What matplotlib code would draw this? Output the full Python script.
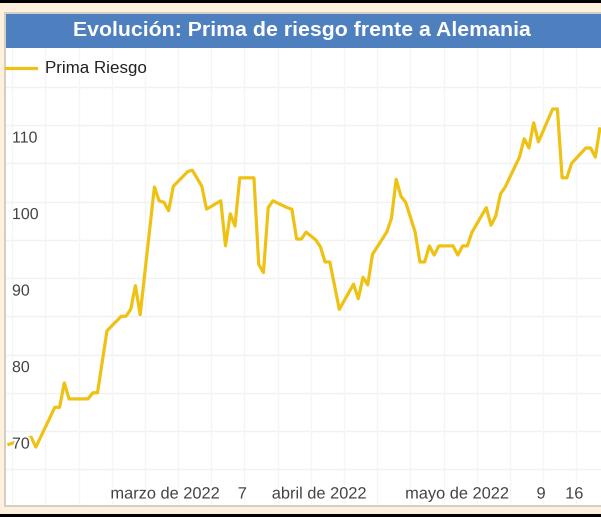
import matplotlib
matplotlib.use("Agg")
import matplotlib.pyplot as plt
import matplotlib.dates as mdates
import matplotlib.patheffects as pe
from matplotlib.patches import Rectangle
from matplotlib.lines import Line2D
import datetime as dt

plt.rcParams['font.family'] = ['Liberation Sans', 'DejaVu Sans']

# ---------------- data ----------------
title = "Evolución: Prima de riesgo frente a Alemania"
series_name = "Prima Riesgo"

dates = [
    "2022-01-16", "2022-01-21", "2022-01-22", "2022-01-26", "2022-01-27",
    "2022-01-28", "2022-01-29", "2022-02-02", "2022-02-03", "2022-02-04",
    "2022-02-06", "2022-02-09", "2022-02-10", "2022-02-11", "2022-02-12",
    "2022-02-13", "2022-02-16", "2022-02-17", "2022-02-18", "2022-02-19",
    "2022-02-20", "2022-02-23", "2022-02-24", "2022-02-26", "2022-02-27",
    "2022-03-02", "2022-03-03", "2022-03-04", "2022-03-05", "2022-03-06",
    "2022-03-09", "2022-03-10", "2022-03-11", "2022-03-12", "2022-03-13",
    "2022-03-16", "2022-03-17", "2022-03-18", "2022-03-19", "2022-03-20",
    "2022-03-22", "2022-03-23", "2022-03-24", "2022-03-25", "2022-03-27",
    "2022-03-30", "2022-03-31", "2022-04-01", "2022-04-02", "2022-04-03",
    "2022-04-06", "2022-04-07", "2022-04-08", "2022-04-09", "2022-04-10",
    "2022-04-12", "2022-04-13", "2022-04-14", "2022-04-15", "2022-04-16",
    "2022-04-17", "2022-04-20", "2022-04-21", "2022-04-22", "2022-04-23",
    "2022-04-24", "2022-04-27", "2022-04-28", "2022-04-29", "2022-04-30",
    "2022-05-01", "2022-05-04", "2022-05-05", "2022-05-06", "2022-05-07",
    "2022-05-08", "2022-05-11", "2022-05-12", "2022-05-13", "2022-05-14",
    "2022-05-15", "2022-05-18", "2022-05-19", "2022-05-20", "2022-05-21",
]
values = [
    68.2, 69.2, 67.9, 73.1, 73.1,
    76.3, 74.2, 74.2, 75.0, 75.0,
    83.1, 85.0, 85.0, 85.9, 89.0,
    85.2, 101.9, 100.1, 99.9, 98.8,
    102.0, 103.9, 104.1, 102.0, 99.0,
    100.1, 94.2, 98.4, 96.8, 103.1,
    103.1, 91.8, 90.7, 99.2, 100.1,
    99.2, 99.0, 95.1, 95.1, 96.0,
    95.0, 94.1, 92.1, 92.1, 85.9,
    89.2, 87.3, 90.1, 89.1, 93.1,
    96.0, 97.8, 102.9, 100.7, 99.9,
    96.0, 92.1, 92.1, 94.2, 93.0,
    94.2, 94.2, 93.0, 94.2, 94.2,
    96.0, 99.2, 96.9, 98.1, 101.0,
    101.9, 105.8, 108.2, 107.0, 110.3,
    107.8, 112.1, 112.1, 103.1, 103.1,
    105.0, 107.0, 107.0, 105.8, 109.7,
]

y_major = [70, 80, 90, 100, 110]
y_grid = [65, 70, 75, 80, 85, 90, 95, 100, 105, 110, 115]

month_label_dates = ["2022-03-01", "2022-04-01", "2022-05-01"]
month_labels = ["marzo de 2022", "abril de 2022", "mayo de 2022"]
day_label_dates = ["2022-03-07", "2022-05-09", "2022-05-16"]
day_labels = ["7", "9", "16"]

week_grid_dates = ["2022-01-17", "2022-01-24", "2022-01-31", "2022-02-07",
                   "2022-02-14", "2022-02-21", "2022-02-28", "2022-03-07",
                   "2022-03-14", "2022-03-21", "2022-03-28", "2022-04-04",
                   "2022-04-11", "2022-04-18", "2022-04-25", "2022-05-02",
                   "2022-05-09", "2022-05-16"]

# ---------------- figure ----------------
W, H = 601, 517
fig = plt.figure(figsize=(W / 100, H / 100), dpi=100)
fig.patch.set_facecolor('#fdf0dc')


def fx(px):
    return px / W


def fy(py):
    return 1 - py / H


def rect(x0, y0, x1, y1, color, z=0):
    fig.add_artist(Rectangle((fx(x0), fy(y1)), fx(x1) - fx(x0), (y1 - y0) / H,
                             transform=fig.transFigure, facecolor=color,
                             edgecolor='none', zorder=z))


rect(0, 0, 601, 3, '#000000')
rect(0, 514, 601, 517, '#000000')
rect(4, 12, 601, 507, '#d3cec6')
rect(6, 14, 601, 505, '#ffffff')
rect(6, 14, 601, 48, '#4e80c0')

fig.text(fx(302), fy(31), title, ha='center', va='center', color='white',
         fontsize=15.3, fontweight='bold', zorder=5)

fig.add_artist(Line2D([fx(6), fx(36)], [fy(68), fy(68)], transform=fig.transFigure,
                      color='#efc113', lw=2.3, zorder=5))
fig.text(fx(45), fy(68), series_name, ha='left', va='center', color='#222222',
         fontsize=12.2, zorder=5)

ax = fig.add_axes([fx(6), fy(505), fx(601) - fx(6), (505 - 48) / H])
ax.set_facecolor('none')
for s in ax.spines.values():
    s.set_visible(False)
ax.set_xticks([])
ax.set_yticks([])

xd = [dt.datetime.strptime(d, "%Y-%m-%d") for d in dates]
mar1 = mdates.date2num(dt.datetime(2022, 3, 1))
ax.set_xlim(mar1 - 44.3, mar1 + 81.2)
ax.set_ylim(60.33, 120.07)

for v in y_grid:
    ax.axhline(v, color='#f1f1f1', lw=1, zorder=0)
for d in week_grid_dates:
    ax.axvline(dt.datetime.strptime(d, "%Y-%m-%d"), color='#f5f5f5', lw=1, zorder=0)

ax.plot(xd, values, color='#efc113', lw=2.3, solid_joinstyle='round',
        solid_capstyle='butt', zorder=3)

halo = [pe.withStroke(linewidth=3, foreground='white')]
for v in y_major:
    ax.annotate(str(v), xy=(0, v), xycoords=('axes fraction', 'data'),
                xytext=(4.3, -9.4), textcoords='offset points',
                ha='left', va='center', fontsize=11.5, color='#444444',
                path_effects=halo, zorder=6, annotation_clip=False)

for d, lbl in zip(month_label_dates, month_labels):
    ax.annotate(lbl, xy=(dt.datetime.strptime(d, "%Y-%m-%d"), 0),
                xycoords=('data', 'axes fraction'), xytext=(2.9, 7.9),
                textcoords='offset points', ha='right', va='center',
                fontsize=11.8, color='#444444', path_effects=halo, zorder=6,
                annotation_clip=False)
for d, lbl in zip(day_label_dates, day_labels):
    ax.annotate(lbl, xy=(dt.datetime.strptime(d, "%Y-%m-%d"), 0),
                xycoords=('data', 'axes fraction'), xytext=(-1.5, 7.9),
                textcoords='offset points', ha='center', va='center',
                fontsize=11.8, color='#444444', path_effects=halo, zorder=6,
                annotation_clip=False)

fig.savefig("out.png", dpi=100, facecolor=fig.get_facecolor())
